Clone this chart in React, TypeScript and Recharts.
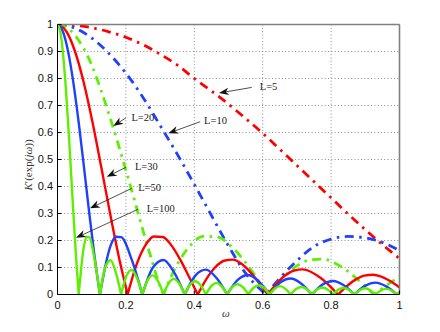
import React from 'react';
import { LineChart, Line, XAxis, YAxis, CartesianGrid, ReferenceLine, Label } from 'recharts';

// tick labels
const xTicks = [0, 0.2, 0.4, 0.6, 0.8, 1];
const yTicks = [0, 0.1, 0.2, 0.3, 0.4, 0.5, 0.6, 0.7, 0.8, 0.9, 1];

// [omega, |K'|]
const L5: [number, number][] = [
  [0, 1], [0.05, 0.997], [0.1, 0.988], [0.15, 0.973], [0.2, 0.953], [0.25, 0.925],
  [0.3, 0.89], [0.35, 0.85], [0.4, 0.8], [0.45, 0.754], [0.5, 0.705], [0.55, 0.652],
  [0.6, 0.597], [0.65, 0.538], [0.7, 0.478], [0.75, 0.418], [0.8, 0.358], [0.85, 0.298],
  [0.9, 0.24], [0.95, 0.185], [1, 0.133],
];

const L10: [number, number][] = [
  [0, 1], [0.05, 0.987], [0.1, 0.95], [0.15, 0.893], [0.2, 0.82], [0.25, 0.73],
  [0.3, 0.626], [0.35, 0.52], [0.4, 0.408], [0.45, 0.293], [0.5, 0.18], [0.55, 0.079],
  [0.61, 0], [0.65, 0.06], [0.7, 0.125], [0.75, 0.178], [0.8, 0.205], [0.85, 0.215],
  [0.9, 0.21], [0.95, 0.193], [1, 0.163],
];

const L20: [number, number][] = [
  [0, 1], [0.025, 0.99], [0.05, 0.962], [0.075, 0.915], [0.1, 0.85], [0.125, 0.765],
  [0.15, 0.67], [0.175, 0.568], [0.2, 0.46], [0.225, 0.35], [0.25, 0.237], [0.275, 0.13],
  [0.295, 0.048], [0.31, 0],
  [0.349, 0.109], [0.388, 0.181], [0.426, 0.215], [0.465, 0.214], [0.504, 0.183],
  [0.543, 0.13], [0.58, 0.066], [0.615, 0],
  [0.655, 0.058], [0.695, 0.102], [0.735, 0.127], [0.775, 0.131], [0.813, 0.115],
  [0.851, 0.084], [0.888, 0.044], [0.925, 0],
  [0.962, 0.034], [1, 0.066],
];

const L30: [number, number][] = [
  [0, 1], [0.0256, 0.975], [0.0513, 0.9], [0.0769, 0.784], [0.1025, 0.637], [0.1281, 0.471],
  [0.1538, 0.3], [0.1794, 0.139], [0.205, 0],
  [0.2306, 0.109], [0.2563, 0.181], [0.2819, 0.215], [0.3075, 0.213], [0.3331, 0.182],
  [0.3588, 0.129], [0.3844, 0.066], [0.41, 0],
  [0.4356, 0.058], [0.4613, 0.101], [0.4869, 0.125], [0.5125, 0.129], [0.5381, 0.114],
  [0.5638, 0.083], [0.5894, 0.043], [0.615, 0],
  [0.6663, 0.071], [0.6919, 0.089], [0.7175, 0.093], [0.7688, 0.062], [0.82, 0],
  [0.8713, 0.055], [0.8969, 0.07], [0.9225, 0.073], [0.9738, 0.049], [1, 0.026],
];

const L50: [number, number][] = [
  [0, 1], [0.0155, 0.975], [0.031, 0.9], [0.0465, 0.784], [0.062, 0.637], [0.0775, 0.471],
  [0.093, 0.3], [0.1085, 0.139], [0.124, 0],
  [0.155, 0.18], [0.1705, 0.214], [0.186, 0.2125], [0.217, 0.129], [0.248, 0],
  [0.279, 0.1], [0.31, 0.128], [0.341, 0.082], [0.372, 0],
  [0.403, 0.07], [0.434, 0.092], [0.465, 0.061], [0.496, 0],
  [0.527, 0.054], [0.558, 0.072], [0.589, 0.048], [0.62, 0],
  [0.651, 0.044], [0.682, 0.059], [0.713, 0.04], [0.744, 0],
  [0.775, 0.037], [0.806, 0.05], [0.837, 0.034], [0.868, 0],
  [0.899, 0.032], [0.93, 0.044], [0.961, 0.03], [0.992, 0],
  [1, 0.008],
];

const L100: [number, number][] = [
  [0, 1], [0.00775, 0.975], [0.0155, 0.9], [0.02325, 0.784], [0.031, 0.637], [0.03875, 0.471],
  [0.0465, 0.3], [0.05425, 0.139], [0.062, 0],
  [0.0775, 0.18], [0.08525, 0.214], [0.093, 0.2122], [0.1085, 0.129], [0.124, 0],
  [0.1395, 0.1], [0.155, 0.127], [0.1705, 0.082], [0.186, 0],
  [0.2015, 0.069], [0.217, 0.091], [0.2325, 0.06], [0.248, 0],
  [0.2635, 0.053], [0.279, 0.071], [0.2945, 0.048], [0.31, 0],
  [0.3255, 0.043], [0.341, 0.058], [0.3565, 0.039], [0.372, 0],
  [0.3875, 0.036], [0.403, 0.049], [0.4185, 0.034], [0.434, 0],
  [0.4495, 0.031], [0.465, 0.043], [0.4805, 0.029], [0.496, 0],
  [0.5115, 0.028], [0.527, 0.038], [0.5425, 0.026], [0.558, 0],
  [0.5735, 0.025], [0.589, 0.034], [0.6045, 0.024], [0.62, 0],
  [0.6355, 0.022], [0.651, 0.031], [0.6665, 0.021], [0.682, 0],
  [0.6975, 0.02], [0.713, 0.028], [0.7285, 0.02], [0.744, 0],
  [0.7595, 0.019], [0.775, 0.026], [0.7905, 0.018], [0.806, 0],
  [0.8215, 0.018], [0.837, 0.024], [0.8525, 0.017], [0.868, 0],
  [0.8835, 0.016], [0.899, 0.023], [0.9145, 0.016], [0.93, 0],
  [0.9455, 0.015], [0.961, 0.021], [0.9765, 0.015], [0.992, 0],
  [1, 0.008],
];

// arrow annotations: tail -> tip, in data coords
const annotations = [
  { text: 'L=5', tail: [0.568, 0.767], tip: [0.472, 0.746], gap: 8 },
  { text: 'L=10', tail: [0.417, 0.64], tip: [0.324, 0.597], gap: 4 },
  { text: 'L=20', tail: [0.2, 0.654], tip: [0.163, 0.624], gap: 5.5 },
  { text: 'L=30', tail: [0.2, 0.471], tip: [0.144, 0.436], gap: 9 },
  { text: 'L=50', tail: [0.217, 0.393], tip: [0.095, 0.319], gap: 6.5 },
  { text: 'L=100', tail: [0.236, 0.316], tip: [0.054, 0.21], gap: 8.5 },
];

const RED = '#ff0000';
const BLUE = '#2040ff';
const GREEN = '#5cf000';
const DASHDOT = '9 5.5 2.5 5.5';

const series = [
  { key: 'L5', pts: L5, color: RED, dash: DASHDOT },
  { key: 'L10', pts: L10, color: BLUE, dash: DASHDOT },
  { key: 'L20', pts: L20, color: GREEN, dash: DASHDOT },
  { key: 'L30', pts: L30, color: RED, dash: undefined },
  { key: 'L50', pts: L50, color: BLUE, dash: undefined },
  { key: 'L100', pts: L100, color: GREEN, dash: undefined },
];

const SANS = '"Liberation Sans", Arial, Helvetica, sans-serif';
const SERIF = '"Liberation Serif", "Times New Roman", serif';

// monotone curve that keeps a sharp corner at every local minimum (the zeros)
const cuspCurve = (ctx: any) => {
  let pts: number[][] = [];
  const seg = (p: number[][]) => {
    const n = p.length;
    if (n < 2) return;
    if (n === 2) {
      ctx.lineTo(p[1][0], p[1][1]);
      return;
    }
    const h: number[] = [];
    const s: number[] = [];
    for (let i = 0; i < n - 1; i++) {
      h.push(p[i + 1][0] - p[i][0]);
      s.push((p[i + 1][1] - p[i][1]) / (h[i] || 1e-9));
    }
    const t: number[] = new Array(n).fill(0);
    for (let i = 1; i < n - 1; i++) {
      const q = (s[i - 1] * h[i] + s[i] * h[i - 1]) / (h[i - 1] + h[i]);
      t[i] = (Math.sign(s[i - 1]) + Math.sign(s[i])) * Math.min(Math.abs(s[i - 1]), Math.abs(s[i]), 0.5 * Math.abs(q)) || 0;
    }
    const end = (sl: number, tn: number) => {
      let v = (3 * sl - tn) / 2;
      if (Math.sign(v) !== Math.sign(sl)) v = 0;
      if (Math.abs(v) > 3 * Math.abs(sl)) v = 3 * sl;
      return v;
    };
    t[0] = end(s[0], t[1]);
    t[n - 1] = end(s[n - 2], t[n - 2]);
    for (let i = 0; i < n - 1; i++) {
      const dx = h[i] / 3;
      ctx.bezierCurveTo(p[i][0] + dx, p[i][1] + dx * t[i], p[i + 1][0] - dx, p[i + 1][1] - dx * t[i + 1], p[i + 1][0], p[i + 1][1]);
    }
  };
  return {
    areaStart() {},
    areaEnd() {},
    lineStart() {
      pts = [];
    },
    lineEnd() {
      if (!pts.length) return;
      ctx.moveTo(pts[0][0], pts[0][1]);
      let start = 0;
      for (let i = 1; i < pts.length; i++) {
        const last = i === pts.length - 1;
        const corner = !last && pts[i][1] >= pts[i - 1][1] && pts[i][1] >= pts[i + 1][1];
        if (corner || last) {
          seg(pts.slice(start, i + 1));
          start = i;
        }
      }
    },
    point(x: number, y: number) {
      pts.push([+x, +y]);
    },
  };
};

const XTick = ({ x, y, payload }: any) => (
  <g>
    <line x1={x} x2={x} y1={y} y2={y - 4} stroke="#000" />
    <text x={x} y={y + 7} dy="0.71em" textAnchor="middle" fontSize={11} fontFamily={SANS} fill="#111">
      {payload.value}
    </text>
  </g>
);

const YTick = ({ x, y, payload }: any) => (
  <g>
    <line x1={x} x2={x + 4} y1={y} y2={y} stroke="#000" />
    <text x={x - 4.5} y={y} dy="0.35em" textAnchor="end" fontSize={11} fontFamily={SANS} fill="#111">
      {payload.value}
    </text>
  </g>
);

// axis titles sit at fixed spots to the left of / under the plot box
const YTitle = () => (
  <g transform="translate(20 157) rotate(-90)">
    <text x={0} y={0} dy="0.35em" textAnchor="middle" fontSize={11} fontFamily={SERIF} fill="#333">
      <tspan fontStyle="italic">K</tspan>
      <tspan>′(exp(</tspan>
      <tspan fontStyle="italic">jω</tspan>
      <tspan>))</tspan>
    </text>
  </g>
);

const XTitle = () => (
  <text x={218} y={309} textAnchor="middle" fontSize={11} fontStyle="italic" fontFamily={SERIF} fill="#333">
    ω
  </text>
);

const Arrow = (p: any) => {
  const { x1, y1, x2, y2, label, gap } = p;
  const ang = Math.atan2(y2 - y1, x2 - x1);
  const c = Math.cos(ang);
  const s = Math.sin(ang);
  const pt = (a: number, b: number) => `${x2 - a * c - b * s},${y2 - a * s + b * c}`;
  return (
    <g>
      <line x1={x1} y1={y1} x2={x2 - 7 * c} y2={y2 - 7 * s} stroke="#222" strokeWidth={0.8} />
      <polygon points={`${x2},${y2} ${pt(10, 3.8)} ${pt(7, 0)} ${pt(10, -3.8)}`} fill="#111" />
      <text x={x1 + gap} y={y1 - 1} dy="0.35em" fontSize={10.5} fontFamily={SERIF} fill="#222">
        {label}
      </text>
    </g>
  );
};

export default function App() {
  return (
    <div style={{ width: 424, height: 316 }}>
      <LineChart width={424} height={316} margin={{ top: 16.5, right: 32.5, bottom: 9.5, left: 9.5 }}>
        <CartesianGrid stroke="#8c8c8c" strokeDasharray="1 2.3" />
        <XAxis
          dataKey="w"
          type="number"
          domain={[0, 1]}
          ticks={xTicks}
          height={20}
          tickLine={false}
          tickSize={0}
          tickMargin={0}
          tick={<XTick />}
          axisLine={{ stroke: '#000' }}
          allowDataOverflow
        >
          <Label content={<XTitle />} />
        </XAxis>
        <XAxis
          xAxisId="top"
          orientation="top"
          mirror
          type="number"
          domain={[0, 1]}
          ticks={xTicks}
          tick={false}
          tickSize={4}
          tickLine={{ stroke: '#555' }}
          axisLine={{ stroke: '#808080', strokeWidth: 1.6 }}
        />
        <YAxis
          type="number"
          domain={[0, 1]}
          ticks={yTicks}
          width={40}
          tickLine={false}
          tickSize={0}
          tickMargin={0}
          tick={<YTick />}
          axisLine={{ stroke: '#000' }}
          allowDataOverflow
        >
          <Label content={<YTitle />} />
        </YAxis>
        <YAxis
          yAxisId="right"
          orientation="right"
          mirror
          type="number"
          domain={[0, 1]}
          ticks={yTicks}
          tick={false}
          tickSize={4}
          tickLine={{ stroke: '#555' }}
          axisLine={{ stroke: '#808080', strokeWidth: 1.6 }}
        />
        {series.map((sr) => (
          <Line
            key={sr.key}
            data={sr.pts.map(([w, v]) => ({ w, v }))}
            dataKey="v"
            type={cuspCurve as any}
            stroke={sr.color}
            strokeWidth={sr.dash ? 2.8 : 2.4}
            strokeDasharray={sr.dash}
            dot={false}
            activeDot={false}
            isAnimationActive={false}
          />
        ))}
        {annotations.map((a) => (
          <ReferenceLine
            key={a.text}
            segment={[
              { x: a.tail[0], y: a.tail[1] },
              { x: a.tip[0], y: a.tip[1] },
            ]}
            ifOverflow="visible"
            shape={(p: any) => <Arrow {...p} label={a.text} gap={a.gap} />}
          />
        ))}
      </LineChart>
    </div>
  );
}
